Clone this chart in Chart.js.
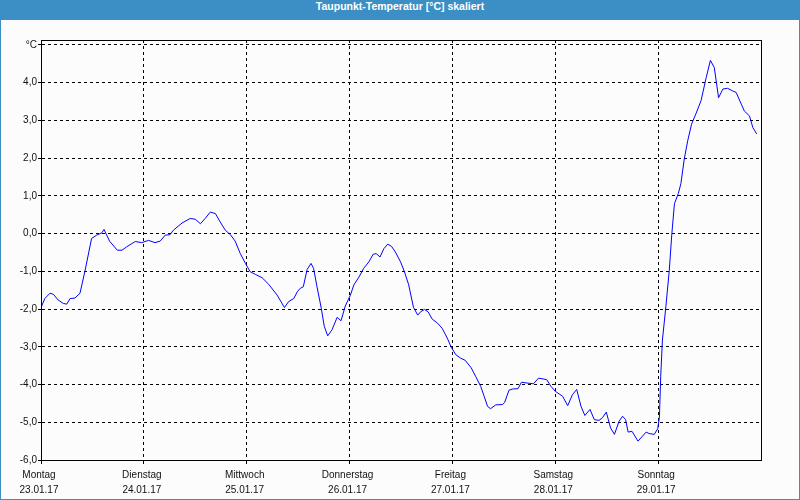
<!DOCTYPE html>
<html lang="de">
<head>
<meta charset="UTF-8">
<title>Taupunkt-Temperatur</title>
<script src="https://cdn.jsdelivr.net/npm/chart.js"></script>
<style>
  body { margin: 0; background: #fff; }
  #wrap { position: relative; width: 798px; height: 499px; border-left: 1px solid #3b8fc4; border-right: 1px solid #3b8fc4; border-bottom: 1px solid #3b8fc4; background: #fbfcfb; }
  #title { height: 20px; line-height: 19px; background: #3b8fc4; color: #fff; text-align: center;
           font: bold 10.5px "Liberation Sans", Arial, sans-serif; }
  canvas { display: block; }
</style>
</head>
<body>
<div id="wrap">
  <div id="title">Taupunkt-Temperatur [°C] skaliert</div>
  <canvas id="dewChart" width="798" height="479"></canvas>
</div>

<script>
// hours since Monday 00:00
const hours = [
  0, 0.9, 2.1, 2.9, 4.0, 5.2, 6.0, 6.8, 7.9, 9.1, 10.3, 11.8, 13.0, 14.2, 14.7, 16.0, 17.8, 18.9, 20.0, 22.0, 23.5,
  25.1, 26.6, 27.8, 29.0, 30.1, 30.9, 32.9, 34.8, 36.0, 37.2, 38.3, 39.5, 40.7, 41.8, 43.0, 44.2, 45.3, 46.5, 47.7,
  48.8, 50.0, 51.6, 53.1, 55.1, 56.8, 57.8, 59.0, 59.8, 60.5, 61.2, 62.1, 63.0, 63.6, 64.4, 65.4, 66.1, 66.9, 67.9,
  69.1, 70.0, 71.0, 72.2, 73.0, 74.2, 75.3, 76.5, 77.5, 78.2, 79.1, 80.0, 80.9, 81.8, 82.7, 83.9, 84.8, 85.8, 86.9,
  87.9, 88.6, 89.5, 90.3, 91.3, 92.5, 93.6, 94.8, 95.7, 96.8, 97.9, 99.0, 100.4, 101.4, 102.6, 103.4, 104.2, 104.9,
  106.1, 107.7, 108.2, 109.2, 110.0, 111.3, 112.1, 113.4, 114.9, 116.1, 118.0, 119.0, 120.0, 121.7, 122.9, 124.0,
  125.0, 126.0, 126.9, 128.1, 129.1, 130.2, 131.0, 131.9, 132.9, 133.8, 134.9, 135.7, 136.4, 137.0, 137.9, 139.3,
  141.2, 141.9, 143.1, 143.9, 144.3, 144.6, 145.0, 145.8, 146.6, 147.2, 147.8, 148.7, 149.3, 150.1, 150.9, 151.8,
  152.8, 154.0, 155.2, 156.2, 157.1, 158.1, 159.1, 160.2, 161.4, 162.2, 163.4, 164.1, 165.3, 166.1, 167.0
];
const dewPoint = [
  -1.96, -1.72, -1.58, -1.61, -1.76, -1.85, -1.87, -1.72, -1.71, -1.58, -0.97, -0.13, -0.04, 0.02, 0.11, -0.20, -0.44, -0.44, -0.35, -0.21, -0.24,
  -0.18, -0.24, -0.20, -0.04, -0.03, 0.09, 0.28, 0.40, 0.38, 0.26, 0.40, 0.57, 0.53, 0.31, 0.09, -0.03, -0.20, -0.53, -0.79,
  -1.01, -1.08, -1.17, -1.34, -1.63, -1.96, -1.80, -1.72, -1.54, -1.45, -1.41, -0.95, -0.79, -0.92, -1.41, -1.98, -2.46, -2.71, -2.55,
  -2.22, -2.31, -1.92, -1.63, -1.36, -1.15, -0.92, -0.75, -0.55, -0.53, -0.62, -0.40, -0.28, -0.34, -0.49, -0.75, -1.01, -1.36, -1.95,
  -2.16, -2.07, -2.01, -2.07, -2.27, -2.37, -2.51, -2.77, -3.01, -3.21, -3.30, -3.36, -3.56, -3.78, -4.05, -4.31, -4.58, -4.64,
  -4.54, -4.53, -4.47, -4.15, -4.12, -4.11, -3.94, -3.96, -3.98, -3.83, -3.87, -4.05, -4.18, -4.31, -4.56, -4.27,
  -4.13, -4.58, -4.82, -4.66, -4.93, -4.95, -4.88, -4.73, -5.15, -5.32, -4.97, -4.84, -4.93, -5.26, -5.24, -5.50,
  -5.26, -5.30, -5.32, -5.17, -4.86, -3.78, -2.82, -1.94, -0.97, 0.00, 0.79, 1.06, 1.32, 1.98, 2.46, 2.90,
  3.17, 3.52, 4.13, 4.59, 4.40, 3.60, 3.83, 3.85, 3.78, 3.74, 3.43, 3.25, 3.12, 2.81, 2.64
];

const dayNames = ['Montag', 'Dienstag', 'Mittwoch', 'Donnerstag', 'Freitag', 'Samstag', 'Sonntag'];
const dayDates = ['23.01.17', '24.01.17', '25.01.17', '26.01.17', '27.01.17', '28.01.17', '29.01.17'];
const dayTicks = [0, 24, 48, 72, 96, 120, 144];
const yTicks = [-6, -5, -4, -3, -2, -1, 0, 1, 2, 3, 4, 5];

const points = hours.map((h, i) => ({ x: h, y: dewPoint[i] }));

// solid frame round the plot area
const framePlugin = {
  id: 'frame',
  afterDraw(chart) {
    const a = chart.chartArea, ctx = chart.ctx;
    ctx.save();
    ctx.strokeStyle = '#000';
    ctx.lineWidth = 1;
    ctx.strokeRect(Math.round(a.left) + 0.5, Math.round(a.top) + 0.5, Math.round(a.right - a.left), Math.round(a.bottom - a.top));
    ctx.restore();
  }
};

const tickFont = { family: '"Liberation Sans", Arial, sans-serif', size: 10 };

new Chart(document.getElementById('dewChart').getContext('2d'), {
  type: 'line',
  data: {
    datasets: [{
      data: points,
      borderColor: '#0000ff',
      borderWidth: 1,
      pointRadius: 0,
      tension: 0,
      fill: false
    }]
  },
  options: {
    responsive: false,
    animation: false,
    layout: { padding: { top: 20, right: 38, left: 0, bottom: 0 } },
    plugins: { legend: { display: false }, tooltip: { enabled: false } },
    scales: {
      x: {
        type: 'linear',
        min: 0,
        max: 168,
        afterBuildTicks: axis => { axis.ticks = dayTicks.map(v => ({ value: v })); },
        afterFit: axis => { axis.height = 39; },
        grid: { color: '#000', lineWidth: 1, tickLength: 4 },
        border: { display: true, color: '#000', width: 1, dash: [3, 3] },
        ticks: {
          maxRotation: 0,
          autoSkip: false,
          padding: 4,
          color: '#111',
          font: { ...tickFont, lineHeight: 1.5 },
          labelOffset: -2,
          callback: (v) => {
            const i = dayTicks.indexOf(v);
            return i >= 0 ? [dayNames[i], dayDates[i]] : '';
          }
        }
      },
      y: {
        type: 'linear',
        min: -6,
        max: 5.13,
        afterBuildTicks: axis => { axis.ticks = yTicks.map(v => ({ value: v })); },
        afterFit: axis => { axis.width = 40; },
        grid: { color: '#000', lineWidth: 1, tickLength: 3 },
        border: { display: true, color: '#000', width: 1, dash: [3, 3] },
        ticks: {
          padding: 1,
          color: '#111',
          font: tickFont,
          callback: (v) => v === 5 ? '°C' : v.toFixed(1).replace('.', ',')
        }
      }
    }
  },
  plugins: [framePlugin]
});
</script>
</body>
</html>
